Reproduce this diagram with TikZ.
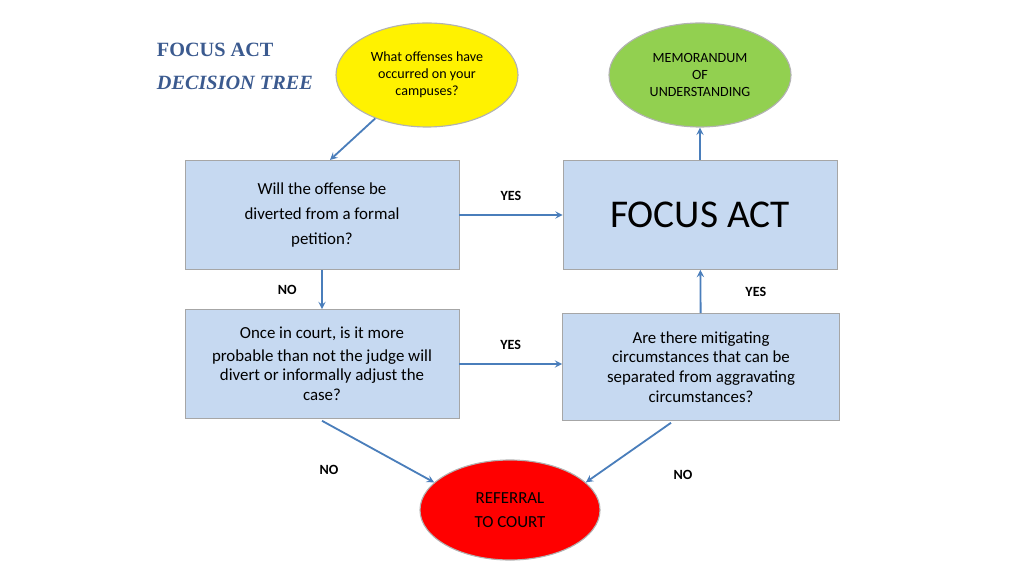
\documentclass[tikz,border=0pt]{standalone}
\usepackage{fontspec}
\usetikzlibrary{shapes.geometric}
\setmainfont{Carlito}
\newfontfamily\titlefont{Liberation Serif}
\definecolor{boxfill}{HTML}{C6D9F1}
\definecolor{arrowblue}{HTML}{4A7EBB}
\definecolor{titleblue}{HTML}{3B5A8F}
\definecolor{moufill}{HTML}{92D050}
\begin{document}
\begin{tikzpicture}
[
    x=0.025cm, y=-0.025cm,
    qbox/.style={draw=gray!70,fill=boxfill,minimum width=274*0.025cm,minimum height=109*0.025cm,align=center,font=\large},
    blob/.style={draw=gray!60,thick,ellipse,minimum width=182*0.025cm,minimum height=104*0.025cm,align=center,inner sep=0pt},
    conn/.style={draw=arrowblue,line width=1.3pt,->,>=stealth},
    lbl/.style={font=\bfseries}
  ]
  \useasboundingbox (0,0) rectangle (1024,576);

  \node[anchor=west,font=\titlefont\bfseries\Large,text=titleblue] (title) at (152,50) {FOCUS ACT};
  \node[anchor=west,font=\titlefont\bfseries\itshape\Large,text=titleblue] (subtitle) at (152,83) {DECISION TREE};

  \node[blob,fill=yellow] (offenses) at (427,75) {What offenses have\\occurred on your\\campuses?};
  \node[blob,fill=moufill] (mou) at (700,75) {MEMORANDUM\\OF\\UNDERSTANDING};
  \node[qbox] (divert) at (322,215) {Will the offense be\\[4pt]diverted from a formal\\[4pt]petition?};
  \node[qbox,font=\fontsize{28}{30}\selectfont] (focus) at (700,215) {FOCUS ACT};
  \node[qbox] (court) at (322,364) {Once in court, is it more\\[2pt]probable than not the judge will\\divert or informally adjust the\\case?};
  \node[qbox,minimum width=277*0.025cm,minimum height=107*0.025cm] (mitigate) at (701,367) {Are there mitigating\\circumstances that can be\\separated from aggravating\\circumstances?};
  \node[blob,fill=red,minimum width=180*0.025cm,minimum height=100*0.025cm,font=\large] (referral) at (510,510) {REFERRAL\\[3pt]TO COURT};

  \draw[conn] (offenses.220) -- (330,160);
  \draw[conn] (divert) -- node[lbl,above=6pt] {YES} (focus);
  \draw[conn] (divert) -- node[lbl,left=14pt] {NO} (court);
  \draw[conn] (court) -- node[lbl,above=6pt] {YES} (mitigate.west |- court);
  \draw[conn] (mitigate) -- node[lbl,right=28pt] {YES} (focus);
  \draw[conn] (focus) -- (mou);
  \draw[conn] (court.south) ++(0,2) coordinate (cs) (cs) -- (referral.160);
  \node[lbl] (no1) at (329,470) {NO};
  \draw[conn] (mitigate.south) ++(-30,2) coordinate (ms) (ms) -- (referral.20);
  \node[lbl] (no2) at (683,475) {NO};
\end{tikzpicture}
\end{document}
